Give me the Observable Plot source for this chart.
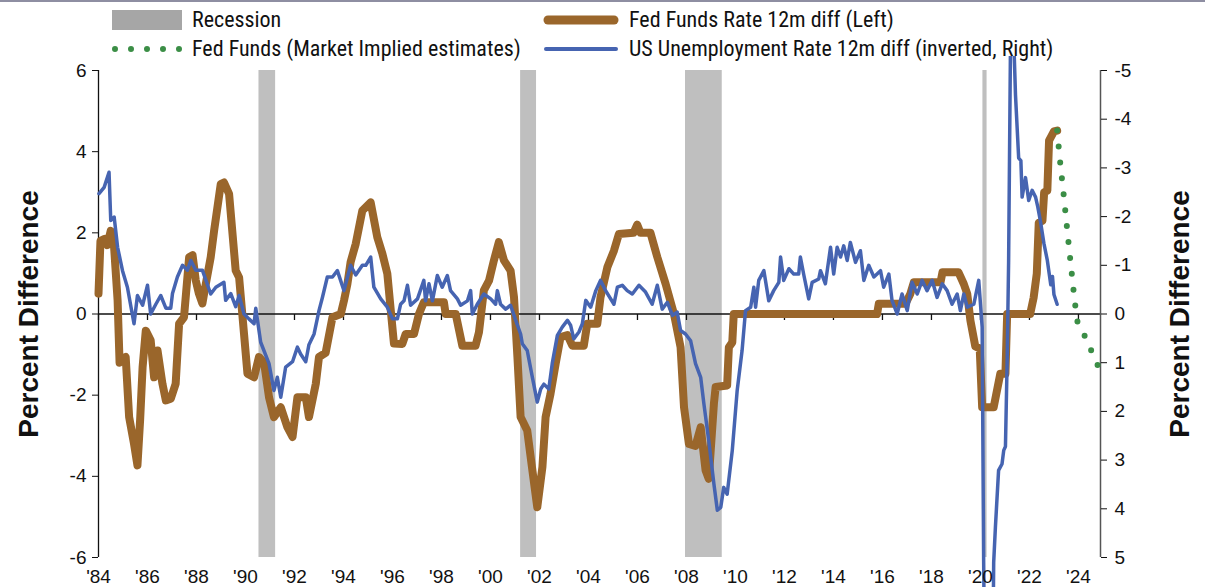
<!DOCTYPE html>
<html>
<head>
<meta charset="utf-8">
<script src="https://cdn.jsdelivr.net/npm/d3@7"></script>
<script src="https://cdn.jsdelivr.net/npm/@observablehq/plot@0.6"></script>
<style>
  html, body { margin: 0; padding: 0; background: #fff; }
  #wrap { width: 1205px; height: 587px; overflow: hidden; position: relative; border-top: 2px solid #8e8ea2; box-sizing: border-box; }
  #legend { position: relative; width: 1205px; height: 54px; font-family: "Liberation Sans Narrow", "Roboto Condensed", "DejaVu Sans Condensed", "Liberation Sans", sans-serif; font-size: 22px; color: #111; }
  #legend .item { position: absolute; display: flex; align-items: center; white-space: nowrap; }
  #legend svg { display: block; }
</style>
</head>
<body>
<div id="wrap">
  <div id="legend"></div>
  <div id="chart"></div>
</div>
<script>
// ---------------- data (decimal years) ----------------
// Fed funds rate, 12-month difference (left axis, percentage points)
const fedFunds = [
  [1984.0,0.5],[1984.08,1.8],[1984.25,1.85],[1984.36,1.7],[1984.5,2.05],[1984.62,1.8],[1984.78,0.33],[1984.86,-1.2],
  [1985.0,-1.1],[1985.11,-1.06],[1985.25,-2.54],[1985.45,-3.2],[1985.59,-3.73],[1985.7,-2.6],[1985.8,-1.31],[1985.93,-0.41],
  [1986.13,-0.65],[1986.27,-1.56],[1986.41,-0.9],[1986.61,-1.72],[1986.75,-2.13],[1986.95,-2.09],[1987.15,-1.72],[1987.29,-0.24],
  [1987.49,-0.08],[1987.7,1.4],[1987.84,1.45],[1987.97,0.83],[1988.1,0.5],[1988.24,0.26],[1988.38,0.74],[1988.58,1.4],
  [1988.72,2.06],[1988.99,3.2],[1989.12,3.24],[1989.33,2.96],[1989.6,1.07],[1989.74,0.9],[1989.94,-0.49],[1990.08,-1.47],
  [1990.35,-1.56],[1990.55,-1.06],[1990.76,-1.2],[1990.96,-2.05],[1991.16,-2.54],[1991.44,-2.3],[1991.71,-2.79],[1991.92,-3.03],
  [1992.12,-2.05],[1992.46,-2.05],[1992.59,-2.54],[1992.87,-1.72],[1993.0,-1.06],[1993.27,-0.96],[1993.55,-0.08],[1993.89,0],
  [1994.02,0.33],[1994.16,0.74],[1994.29,1.28],[1994.5,1.73],[1994.77,2.55],[1995.11,2.75],[1995.38,1.89],[1995.59,1.48],
  [1995.79,0.99],[1995.93,0.09],[1996.06,-0.73],[1996.4,-0.74],[1996.54,-0.49],[1996.88,-0.49],[1997.08,0],[1997.28,0.29],
  [1998.1,0.29],[1998.17,0],[1998.58,0],[1998.85,-0.78],[1999.39,-0.78],[1999.53,-0.45],[1999.73,0.58],[1999.94,0.82],
  [2000.14,1.32],[2000.34,1.77],[2000.55,1.32],[2000.82,1.07],[2000.96,0.41],[2001.1,-1.06],[2001.23,-2.54],[2001.5,-2.87],
  [2001.71,-3.85],[2001.91,-4.76],[2002.12,-3.77],[2002.25,-2.54],[2002.45,-1.97],[2002.66,-1.23],[2002.86,-0.57],[2003.14,-0.52],
  [2003.34,-0.78],[2003.81,-0.78],[2003.95,-0.24],[2004.36,-0.24],[2004.49,0.41],[2004.77,1.15],[2005.04,1.56],[2005.24,1.97],
  [2005.84,2.0],[2005.99,2.2],[2006.12,2.0],[2006.53,2.0],[2006.81,1.4],[2007.15,0.74],[2007.49,0],[2007.76,-0.82],
  [2007.9,-2.3],[2008.1,-3.2],[2008.37,-3.25],[2008.58,-2.79],[2008.78,-3.85],[2008.91,-4.06],[2009.12,-2.21],[2009.19,-1.8],
  [2009.66,-1.76],[2009.73,-0.82],[2009.87,-0.7],[2009.93,0],[2015.78,0],[2015.85,0.25],[2016.94,0.25],[2017.14,0.5],
  [2017.28,0.78],[2018.37,0.78],[2018.45,1.03],[2019.1,1.03],[2019.32,0.74],[2019.46,0.5],[2019.59,-0.16],[2019.79,-0.8],
  [2019.97,-0.85],[2020.07,-2.3],[2020.54,-2.3],[2020.81,-1.47],[2021.02,-1.47],[2021.09,0],[2022.03,0],[2022.17,0.4],
  [2022.3,1.0],[2022.38,2.25],[2022.53,2.3],[2022.6,3.0],[2022.73,3.04],[2022.8,4.27],[2023.0,4.5],[2023.13,4.52]
];

// US unemployment rate, 12-month difference (plotted inverted on the right axis)
const unemployment = [
  [1984.02,-2.47],[1984.23,-2.6],[1984.43,-2.91],[1984.5,-1.92],[1984.64,-1.99],[1984.78,-1.37],[1984.98,-0.89],[1985.18,-0.55],
  [1985.45,0.2],[1985.59,-0.38],[1985.8,-0.18],[1986.0,-0.59],[1986.13,0],[1986.34,-0.2],[1986.54,-0.38],[1986.75,-0.12],
  [1986.95,-0.12],[1987.02,-0.42],[1987.22,-0.76],[1987.43,-1.0],[1987.63,-0.9],[1987.77,-1.1],[1987.97,-0.9],[1988.24,-0.9],
  [1988.58,-0.41],[1988.79,-0.55],[1989.12,-0.65],[1989.19,-0.28],[1989.4,-0.42],[1989.6,-0.15],[1989.74,-0.38],[1989.94,0],
  [1990.14,0.1],[1990.35,0.2],[1990.42,-0.12],[1990.62,0.58],[1990.96,1.02],[1991.16,1.57],[1991.3,1.3],[1991.44,1.71],
  [1991.64,1.09],[1991.92,0.98],[1992.12,0.68],[1992.25,0.82],[1992.46,0.98],[1992.59,0.63],[1992.8,0.41],[1993.0,-0.07],
  [1993.14,-0.34],[1993.34,-0.76],[1993.55,-0.76],[1993.75,-0.89],[1994.02,-0.48],[1994.29,-1.0],[1994.5,-0.8],[1994.77,-1.0],
  [1994.91,-1.0],[1995.11,-1.17],[1995.24,-0.55],[1995.52,-0.31],[1995.79,-0.14],[1996.0,0.1],[1996.2,0.1],[1996.33,-0.2],
  [1996.47,-0.27],[1996.61,-0.59],[1996.74,-0.18],[1997.02,-0.31],[1997.28,-0.69],[1997.35,-0.27],[1997.49,-0.62],[1997.63,-0.27],
  [1997.83,-0.79],[1998.03,-0.55],[1998.24,-0.79],[1998.37,-0.48],[1998.65,-0.31],[1998.78,-0.18],[1999.06,-0.27],[1999.19,-0.48],
  [1999.26,0],[1999.46,-0.2],[1999.73,-0.41],[2000.01,-0.31],[2000.21,-0.2],[2000.28,-0.48],[2000.41,-0.2],[2000.62,-0.1],
  [2000.82,-0.18],[2001.03,0.13],[2001.23,0.41],[2001.3,0.61],[2001.5,0.75],[2001.71,1.3],[2001.91,1.81],[2002.05,1.54],
  [2002.18,1.44],[2002.38,1.54],[2002.52,1.02],[2002.73,0.44],[2002.93,0.27],[2003.14,0.13],[2003.27,0.23],[2003.4,0.51],
  [2003.61,0.37],[2003.75,0.2],[2003.89,-0.28],[2004.09,-0.14],[2004.3,-0.48],[2004.49,-0.69],[2004.7,-0.48],[2005.04,-0.2],
  [2005.18,-0.55],[2005.38,-0.59],[2005.58,-0.48],[2005.79,-0.41],[2006.06,-0.59],[2006.33,-0.45],[2006.6,-0.2],[2006.81,-0.59],
  [2007.01,-0.1],[2007.22,-0.24],[2007.43,0.03],[2007.62,-0.04],[2007.76,0.34],[2007.96,0.41],[2008.17,0.55],[2008.37,1.02],
  [2008.58,1.3],[2008.71,1.84],[2008.91,2.6],[2009.12,3.49],[2009.26,4.03],[2009.4,3.97],[2009.52,3.56],[2009.66,3.7],
  [2009.87,2.8],[2010.07,1.57],[2010.27,0.75],[2010.41,-0.07],[2010.62,-0.14],[2010.75,-0.55],[2010.82,-0.14],[2010.95,-0.69],
  [2011.16,-0.89],[2011.36,-0.27],[2011.56,-0.48],[2011.77,-0.65],[2011.84,-1.17],[2011.97,-0.69],[2012.18,-0.93],[2012.38,-0.82],
  [2012.58,-0.82],[2012.65,-1.17],[2012.79,-0.8],[2012.99,-0.31],[2013.13,-0.65],[2013.4,-0.72],[2013.47,-0.89],[2013.67,-0.62],
  [2013.88,-1.37],[2014.01,-0.82],[2014.15,-1.37],[2014.29,-1.17],[2014.42,-1.4],[2014.56,-1.1],[2014.69,-1.47],[2014.9,-1.06],
  [2015.1,-1.3],[2015.24,-0.69],[2015.44,-1.0],[2015.65,-0.76],[2015.92,-0.89],[2016.05,-0.55],[2016.26,-0.82],[2016.39,-0.28],
  [2016.6,0.0],[2016.8,-0.41],[2017.01,-0.07],[2017.21,-0.65],[2017.42,-0.41],[2017.62,-0.69],[2017.82,-0.48],[2018.03,-0.69],
  [2018.23,-0.34],[2018.44,-0.62],[2018.64,-0.48],[2018.84,-0.2],[2019.05,-0.41],[2019.18,-0.07],[2019.32,-0.41],[2019.46,-0.14],
  [2019.73,-0.2],[2019.93,-0.69],[2020.07,0.27],[2020.13,5.06],[2020.25,11.2],[2020.33,11.0],[2020.42,10.0],[2020.5,7.5],
  [2020.54,5.1],[2020.61,4.38],[2020.74,3.21],[2020.88,3.08],[2020.95,2.8],[2021.02,2.72],[2021.09,0.95],[2021.15,-1.1],
  [2021.22,-5.2],[2021.28,-8.6],[2021.33,-7.6],[2021.38,-5.3],[2021.43,-4.5],[2021.56,-3.2],[2021.65,-3.15],[2021.7,-2.4],
  [2021.84,-2.8],[2021.97,-2.33],[2022.11,-2.54],[2022.25,-2.4],[2022.34,-2.2],[2022.45,-1.9],[2022.59,-1.45],[2022.73,-1.1],
  [2022.87,-0.6],[2022.94,-0.77],[2023.0,-0.4],[2023.13,-0.2]
];

// Fed funds, market-implied estimates (left axis)
const marketImplied = [
  [2023.13,4.52],[2023.26,3.7],[2023.4,2.92],[2023.53,2.14],[2023.67,1.32],[2023.8,0.58],[2023.94,-0.16],
  [2024.28,-0.57],[2024.55,-0.94],[2024.82,-1.31]
];

// NBER recessions [start, end]
const recessions = [[1990.55,1991.23],[2001.23,2001.88],[2007.96,2009.46],[2020.1,2020.27]];

const xTicks = [1984,1986,1988,1990,1992,1994,1996,1998,2000,2002,2004,2006,2008,2010,2012,2014,2016,2018,2020,2022,2024];
const leftTicks = [-6,-4,-2,0,2,4,6];
const rightTicks = [-5,-4,-3,-2,-1,0,1,2,3,4,5];
const xDomain = [1984, 2024.9];
const yDomain = [-6, 6];
const rightDomain = [5, -5]; // right axis: inverted unemployment scale

const legendItems = [
  "Recession",
  "Fed Funds (Market Implied estimates)",
  "Fed Funds Rate 12m diff (Left)",
  "US Unemployment Rate 12m diff (inverted, Right)"
];
const axisTitle = "Percent Difference";

// ---------------- styles ----------------
const BROWN = "#9a662b";
const BLUE = "#4664b1";
const GREEN = "#3b8e46";
const REC_GRAY = "#bfbfbf";
const LEG_GRAY = "#a6a6a6";

// map right-axis values onto the left scale
const ratio = (yDomain[1] - yDomain[0]) / (rightDomain[0] - rightDomain[1]); // 1.2
const toLeft = r => -r * ratio;
const hy = v => { const r = Math.round(v * 100) / 100; return (r < 0 ? "-" : "") + Math.abs(r); };

const fedData = fedFunds.map(([t, v]) => ({t, v}));
const unData = unemployment.map(([t, v]) => ({t, v}));
const impData = marketImplied.map(([t, v]) => ({t, v}));
const recData = recessions.map(([a, b]) => ({a, b}));

// ---------------- legend ----------------
const legend = document.getElementById("legend");
function addItem(left, top, swatch, text) {
  const d = document.createElement("div");
  d.className = "item";
  d.style.left = left + "px";
  d.style.top = top + "px";
  d.innerHTML = swatch + `<span style="margin-left:10px">${text}</span>`;
  legend.appendChild(d);
}
addItem(112, 5, `<svg width="70" height="22"><rect x="0" y="1" width="70" height="20" fill="${LEG_GRAY}"/></svg>`, legendItems[0]);
addItem(112, 34, `<svg width="70" height="22"><line x1="3" y1="11" x2="68" y2="11" stroke="${GREEN}" stroke-width="6" stroke-linecap="round" stroke-dasharray="0 16"/></svg>`, legendItems[1]);
addItem(543, 5, `<svg width="76" height="22"><line x1="5" y1="11" x2="71" y2="11" stroke="${BROWN}" stroke-width="9" stroke-linecap="round"/></svg>`, legendItems[2]);
addItem(543, 34, `<svg width="76" height="22"><line x1="3" y1="11" x2="73" y2="11" stroke="${BLUE}" stroke-width="4" stroke-linecap="round"/></svg>`, legendItems[3]);

// ---------------- chart ----------------
const tickDown = { draw(ctx) { ctx.moveTo(0, 0); ctx.lineTo(0, 6); } };

const chart = Plot.plot({
  width: 1205,
  height: 531,
  marginTop: 14,
  marginBottom: 30,
  marginLeft: 98,
  marginRight: 105,
  style: { fontFamily: "'Liberation Sans', Arial, sans-serif", fontSize: "19px", overflow: "hidden", background: "white", color: "#111" },
  x: { type: "linear", domain: xDomain },
  y: { domain: yDomain },
  marks: [
    Plot.rect(recData, { x1: "a", x2: "b", fill: REC_GRAY }),
    Plot.ruleY([0], { stroke: "#111", strokeWidth: 1.3 }),
    Plot.dot(xTicks, { x: d => d, y: () => 0, symbol: tickDown, stroke: "#111", strokeWidth: 1.3, fill: "none" }),
    Plot.ruleX([xDomain[0]], { y1: yDomain[0], y2: yDomain[1], stroke: "#111", strokeWidth: 1.3 }),
    Plot.ruleX([xDomain[1]], { y1: yDomain[0], y2: yDomain[1], stroke: "#555", strokeWidth: 1.5 }),
    Plot.line(fedData, { x: "t", y: "v", stroke: BROWN, strokeWidth: 8, strokeLinejoin: "round", strokeLinecap: "round" }),
    Plot.line(unData, { x: "t", y: d => toLeft(d.v), stroke: BLUE, strokeWidth: 3.5, strokeLinejoin: "round" }),
    Plot.line(impData, { x: "t", y: "v", stroke: GREEN, strokeWidth: 6, strokeDasharray: "0 16", strokeLinecap: "round" }),
    Plot.axisY({ ticks: leftTicks, tickFormat: hy, tickSize: 6, tickPadding: 6, label: null, fontSize: 19 }),
    Plot.axisY({ ticks: rightTicks.map(toLeft), anchor: "right", tickFormat: d => hy(-d / ratio), tickSize: 6, tickPadding: 8, label: null, fontSize: 19 }),
    Plot.axisX({ ticks: xTicks, tickFormat: d => "'" + String(d).slice(2), tickSize: 0, tickPadding: 12, label: null, fontSize: 19 }),
    Plot.text([axisTitle], { frameAnchor: "left", textAnchor: "middle", rotate: -90, dx: -69, fontSize: 28, fontWeight: "bold", fill: "#111" }),
    Plot.text([axisTitle], { frameAnchor: "right", textAnchor: "middle", rotate: -90, dx: 80, fontSize: 28, fontWeight: "bold", fill: "#111" })
  ]
});
document.getElementById("chart").appendChild(chart);
</script>
</body>
</html>
